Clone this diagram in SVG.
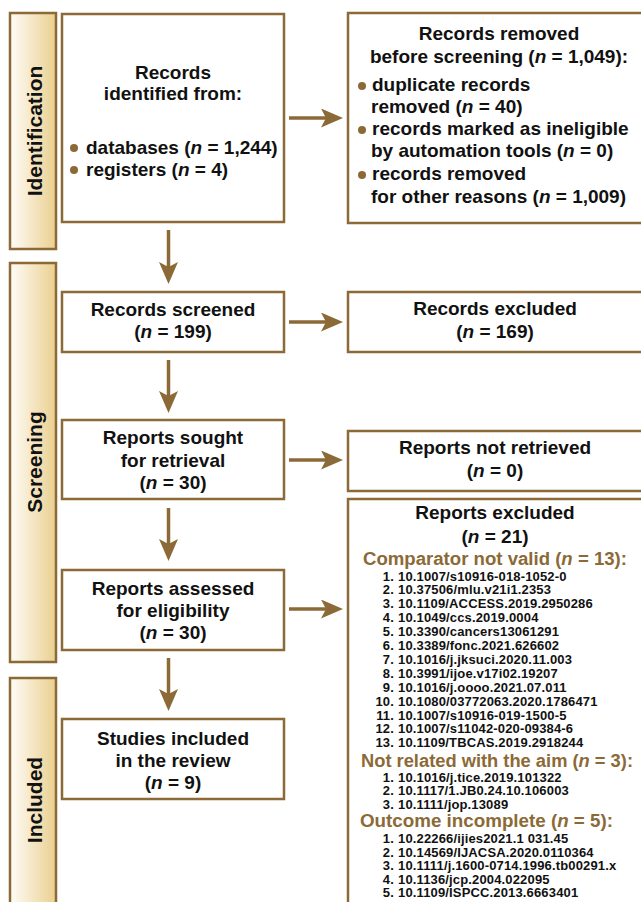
<svg xmlns="http://www.w3.org/2000/svg" width="641" height="902" viewBox="0 0 641 902">
  <defs>
    <linearGradient id="phaseFill" x1="0" y1="0" x2="1" y2="0">
      <stop offset="0" stop-color="#fffdf8"/>
      <stop offset="1" stop-color="#eacf8f"/>
    </linearGradient>
    <marker id="head" viewBox="0 0 22 19" refX="5" refY="9.5" markerWidth="22" markerHeight="19" markerUnits="userSpaceOnUse" orient="auto">
      <path d="M0,0 L22,9.5 L0,19 L5,9.5 Z" fill="#8b6a37"/>
    </marker>
    <style>
      .box { fill: #ffffff; stroke: #8b6a37; stroke-width: 2.5; }
      .phase { fill: url(#phaseFill); stroke: #8b6a37; stroke-width: 2.5; }
      .t { font-family: "Liberation Sans", Arial, sans-serif; font-weight: bold; font-size: 19px; fill: #111111; }
      .c { text-anchor: middle; }
      .ph { font-family: "Liberation Sans", Arial, sans-serif; font-weight: bold; font-size: 21px; fill: #111111; text-anchor: middle; }
      .hd { font-family: "Liberation Sans", Arial, sans-serif; font-weight: bold; font-size: 18px; fill: #8b6a37; }
      .li { font-family: "Liberation Sans", Arial, sans-serif; font-weight: bold; font-size: 13px; letter-spacing: 0.15px; fill: #111111; }
      .num { text-anchor: end; }
      .dot { fill: #8b6a37; }
      .i { font-style: italic; }
      .link { fill: none; stroke: #8b6a37; stroke-width: 3.5; marker-end: url(#head); }
    </style>
  </defs>

  <!-- phase labels -->
  <g id="phase-identification">
    <rect class="phase" x="10" y="13" width="46" height="236"/>
    <text class="ph" x="41.5" y="131" transform="rotate(-90 41.5 131)">Identification</text>
  </g>
  <g id="phase-screening">
    <rect class="phase" x="10" y="263" width="46" height="399"/>
    <text class="ph" x="41.5" y="462" transform="rotate(-90 41.5 462)">Screening</text>
  </g>
  <g id="phase-included">
    <rect class="phase" x="10" y="678" width="46" height="240"/>
    <text class="ph" x="41.5" y="800" transform="rotate(-90 41.5 800)">Included</text>
  </g>

  <!-- main flow -->
  <g id="records-identified">
    <rect class="box" x="62" y="14" width="222" height="208"/>
    <text class="t c" x="173" y="79">Records</text>
    <text class="t c" x="173" y="100">identified from:</text>
    <circle class="dot" cx="74" cy="148" r="4"/>
    <text class="t" x="86" y="154">databases (<tspan class="i">n</tspan> = 1,244)</text>
    <circle class="dot" cx="74" cy="170" r="4"/>
    <text class="t" x="86" y="176">registers (<tspan class="i">n</tspan> = 4)</text>
  </g>

  <g id="records-screened">
    <rect class="box" x="62" y="292" width="222" height="60"/>
    <text class="t c" x="173" y="316">Records screened</text>
    <text class="t c" x="173" y="338">(<tspan class="i">n</tspan> = 199)</text>
  </g>

  <g id="reports-sought">
    <rect class="box" x="62" y="420" width="222" height="79"/>
    <text class="t c" x="173" y="444">Reports sought</text>
    <text class="t c" x="173" y="467">for retrieval</text>
    <text class="t c" x="173" y="489">(<tspan class="i">n</tspan> = 30)</text>
  </g>

  <g id="reports-assessed">
    <rect class="box" x="62" y="570" width="222" height="80"/>
    <text class="t c" x="173" y="595">Reports assessed</text>
    <text class="t c" x="173" y="617">for eligibility</text>
    <text class="t c" x="173" y="639">(<tspan class="i">n</tspan> = 30)</text>
  </g>

  <g id="studies-included">
    <rect class="box" x="62" y="719" width="222" height="80"/>
    <text class="t c" x="173" y="745">Studies included</text>
    <text class="t c" x="173" y="767">in the review</text>
    <text class="t c" x="173" y="789">(<tspan class="i">n</tspan> = 9)</text>
  </g>

  <!-- side boxes -->
  <g id="records-removed">
    <rect class="box" x="348" y="13" width="300" height="210"/>
    <text class="t c" x="499" y="40">Records removed</text>
    <text class="t c" x="499" y="63">before screening (<tspan class="i">n</tspan> = 1,049):</text>
    <circle class="dot" cx="362" cy="86" r="4"/>
    <text class="t" x="372" y="91">duplicate records</text>
    <text class="t" x="371" y="113">removed (<tspan class="i">n</tspan> = 40)</text>
    <circle class="dot" cx="362" cy="130" r="4"/>
    <text class="t" x="372" y="135">records marked as ineligible</text>
    <text class="t" x="371" y="157">by automation tools (<tspan class="i">n</tspan> = 0)</text>
    <circle class="dot" cx="362" cy="175" r="4"/>
    <text class="t" x="372" y="180">records removed</text>
    <text class="t" x="371" y="203">for other reasons (<tspan class="i">n</tspan> = 1,009)</text>
  </g>

  <g id="records-excluded">
    <rect class="box" x="348" y="292" width="300" height="60"/>
    <text class="t c" x="495" y="315">Records excluded</text>
    <text class="t c" x="495" y="338">(<tspan class="i">n</tspan> = 169)</text>
  </g>

  <g id="reports-not-retrieved">
    <rect class="box" x="348" y="431" width="300" height="60"/>
    <text class="t c" x="495" y="454">Reports not retrieved</text>
    <text class="t c" x="495" y="477">(<tspan class="i">n</tspan> = 0)</text>
  </g>

  <g id="reports-excluded">
    <rect class="box" x="348" y="499" width="300" height="420"/>
    <text class="t c" x="495" y="519">Reports excluded</text>
    <text class="t c" x="495" y="543">(<tspan class="i">n</tspan> = 21)</text>

    <text class="hd" x="363" y="565" textLength="264" lengthAdjust="spacingAndGlyphs">Comparator not  valid (<tspan class="i">n</tspan> = 13):</text>
    <text class="li num" x="394" y="580.5">1.</text><text class="li" x="398" y="580.5">10.1007/s10916-018-1052-0</text>
    <text class="li num" x="394" y="594.4">2.</text><text class="li" x="398" y="594.4">10.37506/mlu.v21i1.2353</text>
    <text class="li num" x="394" y="608.3">3.</text><text class="li" x="398" y="608.3">10.1109/ACCESS.2019.2950286</text>
    <text class="li num" x="394" y="622.2">4.</text><text class="li" x="398" y="622.2">10.1049/ccs.2019.0004</text>
    <text class="li num" x="394" y="636.1">5.</text><text class="li" x="398" y="636.1">10.3390/cancers13061291</text>
    <text class="li num" x="394" y="650">6.</text><text class="li" x="398" y="650">10.3389/fonc.2021.626602</text>
    <text class="li num" x="394" y="663.9">7.</text><text class="li" x="398" y="663.9">10.1016/j.jksuci.2020.11.003</text>
    <text class="li num" x="394" y="677.8">8.</text><text class="li" x="398" y="677.8">10.3991/ijoe.v17i02.19207</text>
    <text class="li num" x="394" y="691.7">9.</text><text class="li" x="398" y="691.7">10.1016/j.oooo.2021.07.011</text>
    <text class="li num" x="394" y="705.6">10.</text><text class="li" x="398" y="705.6">10.1080/03772063.2020.1786471</text>
    <text class="li num" x="394" y="719.5">11.</text><text class="li" x="398" y="719.5">10.1007/s10916-019-1500-5</text>
    <text class="li num" x="394" y="733.4">12.</text><text class="li" x="398" y="733.4">10.1007/s11042-020-09384-6</text>
    <text class="li num" x="394" y="747">13.</text><text class="li" x="398" y="747">10.1109/TBCAS.2019.2918244</text>

    <text class="hd" x="361" y="766.5" textLength="272" lengthAdjust="spacingAndGlyphs">Not related with the aim (<tspan class="i">n</tspan> = 3):</text>
    <text class="li num" x="394" y="781.5">1.</text><text class="li" x="398" y="781.5">10.1016/j.tice.2019.101322</text>
    <text class="li num" x="394" y="795">2.</text><text class="li" x="398" y="795">10.1117/1.JB0.24.10.106003</text>
    <text class="li num" x="394" y="808.5">3.</text><text class="li" x="398" y="808.5">10.1111/jop.13089</text>

    <text class="hd" x="360" y="827" textLength="253" lengthAdjust="spacingAndGlyphs">Outcome incomplete (<tspan class="i">n</tspan> = 5):</text>
    <text class="li num" x="394" y="843">1.</text><text class="li" x="398" y="843">10.22266/ijies2021.1 031.45</text>
    <text class="li num" x="394" y="856.5">2.</text><text class="li" x="398" y="856.5">10.14569/IJACSA.2020.0110364</text>
    <text class="li num" x="394" y="870">3.</text><text class="li" x="398" y="870">10.1111/j.1600-0714.1996.tb00291.x</text>
    <text class="li num" x="394" y="883.5">4.</text><text class="li" x="398" y="883.5">10.1136/jcp.2004.022095</text>
    <text class="li num" x="394" y="897">5.</text><text class="li" x="398" y="897">10.1109/ISPCC.2013.6663401</text>
  </g>

  <!-- connectors -->
  <g id="connectors">
    <line class="link" x1="168.5" y1="230" x2="168.5" y2="267"/>
    <line class="link" x1="168.5" y1="360" x2="168.5" y2="396"/>
    <line class="link" x1="168.5" y1="508" x2="168.5" y2="544"/>
    <line class="link" x1="168.5" y1="658" x2="168.5" y2="694"/>
    <line class="link" x1="289" y1="118" x2="326" y2="118"/>
    <line class="link" x1="289" y1="322" x2="326" y2="322"/>
    <line class="link" x1="289" y1="460" x2="326" y2="460"/>
    <line class="link" x1="289" y1="609" x2="326" y2="609"/>
  </g>
</svg>
